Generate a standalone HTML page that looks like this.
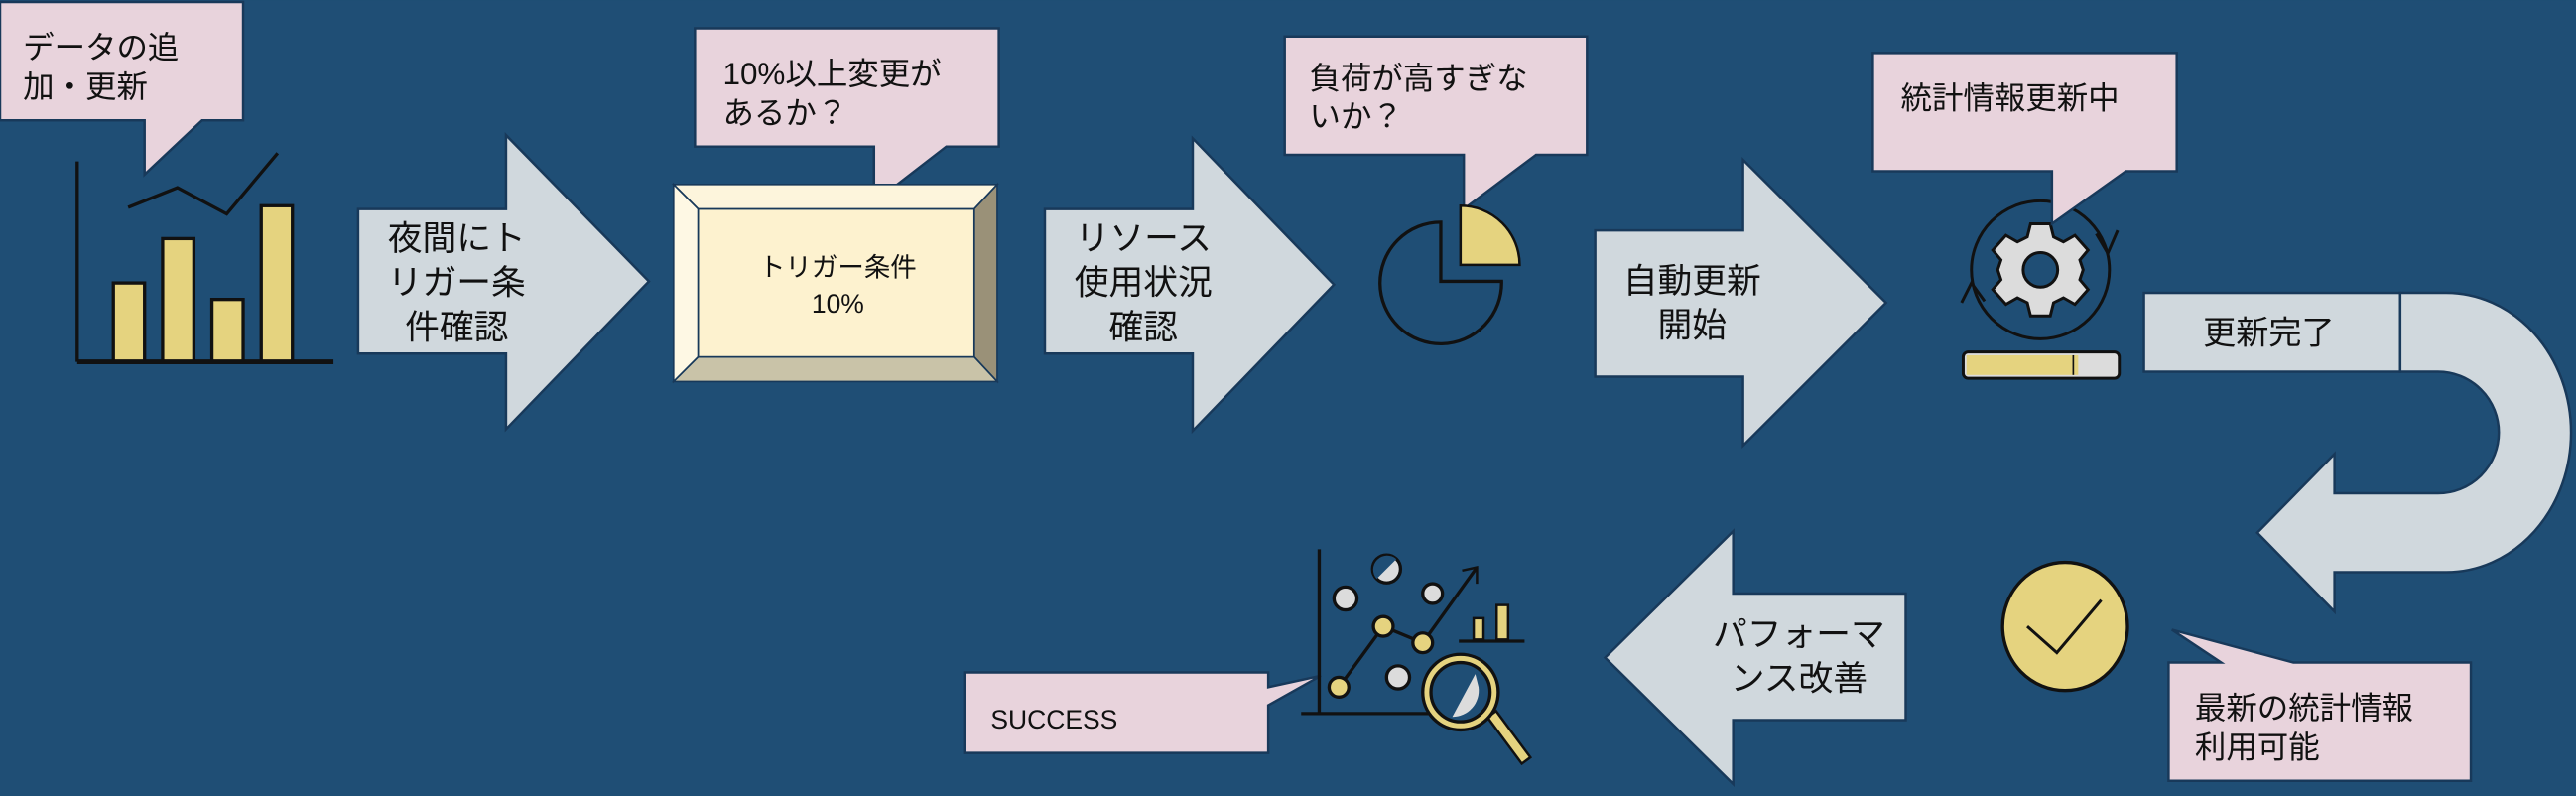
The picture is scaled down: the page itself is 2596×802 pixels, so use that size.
<!DOCTYPE html>
<html><head><meta charset="utf-8"><style>
html,body{margin:0;padding:0;background:#1f4e75;}
svg{display:block}
text{font-family:"Liberation Sans","Noto Sans CJK JP",sans-serif;fill:#111;}
</style></head><body>
<svg width="2596" height="802" viewBox="0 0 1568 484" xmlns="http://www.w3.org/2000/svg">
<rect width="1568" height="484" fill="#1f4e75"/>
<!-- gear (drawn before bubbles so tail overlaps) -->
<g stroke="#111" stroke-width="1.8" fill="none">
<circle cx="1242" cy="164" r="42"/>
<path d="M1276,142 L1283,154 L1289,140"/>
<path d="M1194,184 L1200,172 L1208,183"/>
</g>
<g transform="translate(1242,164)" stroke="#111" stroke-width="1.8" fill="#dcdcdc">
<path d="M-6,-28 H6 L8,-20 L14,-17 L21,-21 L29,-12 L24,-6 L26,0 L24,6 L29,12 L21,21 L14,17 L8,20 L6,28 H-6 L-8,20 L-14,17 L-21,21 L-29,12 L-24,6 L-26,0 L-24,-6 L-29,-12 L-21,-21 L-14,-17 L-8,-20 Z"/>
<circle r="10.5" fill="#1f4e75"/>
</g>
<g stroke="#18395a" stroke-width="1.5">
<path d="M0,1 H148 V73 H123 L88,106 V73 H0 Z" fill="#e8d3dc"/>
<path d="M423,17 H608 V89 H576 L532,123 V89 H423 Z" fill="#e8d3dc"/>
<path d="M782,22 H966 V94 H935 L891,127 V94 H782 Z" fill="#e8d3dc"/>
<path d="M1140,32 H1325 V104 H1294 L1249,136 V104 H1140 Z" fill="#e8d3dc"/>
<path d="M1320,403 H1352 L1322,383 L1396,403 H1504 V475 H1320 Z" fill="#e8d3dc"/>
<path d="M587,409 H772 V418 L804,411 L772,429 V458 H587 Z" fill="#e8d3dc"/>
<path d="M218,127 H308 V82 L395,171 L308,261 V215 H218 Z" fill="#d0d8dd"/>
<path d="M636,127 H726 V84 L812,173 L726,262 V215 H636 Z" fill="#d0d8dd"/>
<path d="M971,140 H1061 V97 L1148,184 L1061,271 V229 H971 Z" fill="#d0d8dd"/>
<path d="M1160,361 H1055 V323 L977,400 L1055,477 V438 H1160 Z" fill="#d0d8dd"/>
<rect x="1305" y="178" width="156" height="48" fill="#d0d8dd"/>
<path d="M1461,178 H1489 A76,85 0 0 1 1489,348 H1421 V372 L1374,324 L1421,276 V300 H1484 A37,37 0 0 0 1484,226 H1461 Z" fill="#d0d8dd"/>
</g>
<g stroke="#18395a" stroke-width="1">
<polygon points="410,112 607,112 593,127 425,127" fill="#fdf5dc"/>
<polygon points="410,112 425,127 425,217 410,232" fill="#fef8e4"/>
<polygon points="607,112 607,232 593,217 593,127" fill="#9a9178"/>
<polygon points="410,232 425,217 593,217 607,232" fill="#c9c3a8"/>
<rect x="425" y="127" width="168" height="90" fill="#fdf2cf"/>
</g>
<g stroke="#111" stroke-width="2" fill="#e5d37f">
<rect x="69" y="172" width="19" height="48"/>
<rect x="99" y="145" width="19" height="75"/>
<rect x="129" y="182" width="19" height="38"/>
<rect x="159" y="125" width="19" height="95"/>
<polyline points="78,126 108,114 138,130 169,93" fill="none"/>
<line x1="47" y1="98" x2="47" y2="220"/>
<line x1="47" y1="220" x2="203" y2="220" stroke-width="3"/>
</g>
<path d="M877,135 V171 H914 A37,37 0 1 1 877,135 Z" fill="none" stroke="#111" stroke-width="2"/>
<path d="M889,125 A36,36 0 0 1 925,161 H889 Z" fill="#e5d37f" stroke="#111" stroke-width="1.5"/>
<rect x="1195" y="214" width="95" height="16" rx="3" fill="#dcdcdc" stroke="#111" stroke-width="1.8"/>
<rect x="1197" y="216" width="68" height="12" fill="#e5d37f"/>
<line x1="1262" y1="216" x2="1262" y2="228" stroke="#111"/>
<ellipse cx="1257" cy="381" rx="38" ry="39" fill="#e5d37f" stroke="#111" stroke-width="2"/>
<polyline points="1234,381 1252,397 1279,365" fill="none" stroke="#111" stroke-width="1.8"/>
<g stroke="#111" stroke-width="2">
<line x1="803" y1="334" x2="803" y2="434"/>
<line x1="792" y1="434" x2="872" y2="434"/>
<polyline points="815,418 842,381 866,391 899,345" fill="none"/>
<polyline points="890,347 899,345 899,355" fill="none" stroke-width="1.5"/>
<line x1="888" y1="390" x2="928" y2="390"/>
<rect x="897" y="376" width="6" height="13" fill="#e5d37f" stroke-width="1.5"/>
<rect x="911" y="368" width="7" height="21" fill="#e5d37f" stroke-width="1.5"/>
<circle cx="844" cy="346" r="8.5" fill="#dcdcdc"/>
<circle cx="819" cy="364" r="7" fill="#dcdcdc"/>
<circle cx="872" cy="361" r="6" fill="#dcdcdc"/>
<circle cx="851" cy="412" r="7" fill="#dcdcdc"/>
<circle cx="815" cy="418" r="6" fill="#e5d37f"/>
<circle cx="842" cy="381" r="6" fill="#e5d37f"/>
<circle cx="866" cy="391" r="6" fill="#e5d37f"/>
<line x1="910" y1="437" x2="927" y2="460" stroke="#111" stroke-width="8" stroke-linecap="square"/>
<line x1="910" y1="437" x2="927" y2="460" stroke="#e5d37f" stroke-width="5" stroke-linecap="square"/>
<circle cx="889" cy="421" r="23" fill="#e5d37f"/>
<circle cx="889" cy="421" r="18" fill="#1f4e75"/>
</g>
<path d="M850,340 A8.5,8.5 0 0 0 838,352 Z" fill="#1f4e75"/>
<path d="M898,410 L884,436 A16,16 0 0 0 900,418 Z" fill="#dcdcdc"/>
<g font-size="19">
<text x="14" y="35">データの追</text>
<text x="14" y="59">加・更新</text>
<text x="440" y="51">10%以上変更が</text>
<text x="440" y="75">あるか？</text>
<text x="797" y="54">負荷が高すぎな</text>
<text x="797" y="77">いか？</text>
<text x="1157" y="66">統計情報更新中</text>
<text x="1336" y="437">最新の統計情報</text>
<text x="1336" y="461">利用可能</text>
</g>
<g font-size="21" text-anchor="middle">
<text x="278" y="152">夜間にト</text>
<text x="278" y="179">リガー条</text>
<text x="278" y="206">件確認</text>
<text x="696" y="152">リソース</text>
<text x="696" y="179">使用状況</text>
<text x="696" y="206">確認</text>
<text x="1030" y="178">自動更新</text>
<text x="1030" y="205">開始</text>
<text x="1381" y="209" font-size="20">更新完了</text>
<text x="1095" y="393">パフォーマ</text>
<text x="1095" y="420">ンス改善</text>
<text x="510" y="168" font-size="16">トリガー条件</text>
<text x="510" y="190" font-size="16">10%</text>
</g>
<text x="603" y="443" font-size="16">SUCCESS</text>
</svg>
</body></html>
